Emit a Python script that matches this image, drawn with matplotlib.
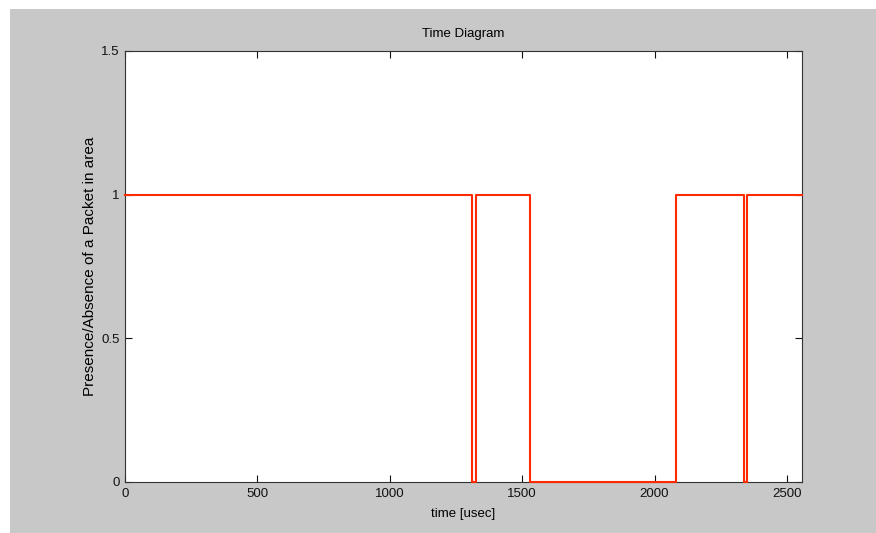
import matplotlib.pyplot as plt
from matplotlib.patches import Rectangle

# edges of the packet presence signal (usec) and the level after each edge
times = [0, 1312, 1324, 1530, 2081, 2339, 2351, 2557]
levels = [1, 0, 1, 0, 1, 0, 1, 1]

xticks = [0, 500, 1000, 1500, 2000, 2500]
yticks = [0, 0.5, 1, 1.5]
ytick_labels = ['0', '0.5', '1', '1.5']

plt.rcParams['font.family'] = ['Liberation Sans', 'DejaVu Sans']

fig = plt.figure(figsize=(8.76, 5.33), dpi=100, facecolor='white')
# grey matlab window background, leaving the thin white strip top/left
fig.patches.append(Rectangle((10 / 876, 0), 1, 1 - 9 / 533, transform=fig.transFigure,
                             facecolor='#c8c8c8', edgecolor='none', zorder=-10))

ax = fig.add_axes([125 / 876, 51 / 533, 677 / 876, 431 / 533])
ax.set_zorder(1)
ax.set_facecolor('white')
ax.plot(times, levels, drawstyle='steps-post', color='#ff2a00', linewidth=1.5,
        clip_on=False, zorder=3)

ax.set_xlim(0, 2557)
ax.set_ylim(0, 1.5)
ax.set_xticks(xticks)
ax.set_yticks(yticks)
ax.set_yticklabels(ytick_labels)
ax.tick_params(direction='in', length=5, width=0.8, top=True, right=True,
               labelsize=9.5, pad=4, colors='#111111')
for s in ax.spines.values():
    s.set_linewidth(0.8)
    s.set_color('#333333')

ax.set_title('Time Diagram', fontsize=9.5, pad=10)
ax.set_xlabel('time [usec]', fontsize=9.5, labelpad=6)
ax.set_ylabel('Presence/Absence of a Packet in area', fontsize=11, labelpad=3)

fig.savefig('out.png', dpi=100, facecolor=fig.get_facecolor())
